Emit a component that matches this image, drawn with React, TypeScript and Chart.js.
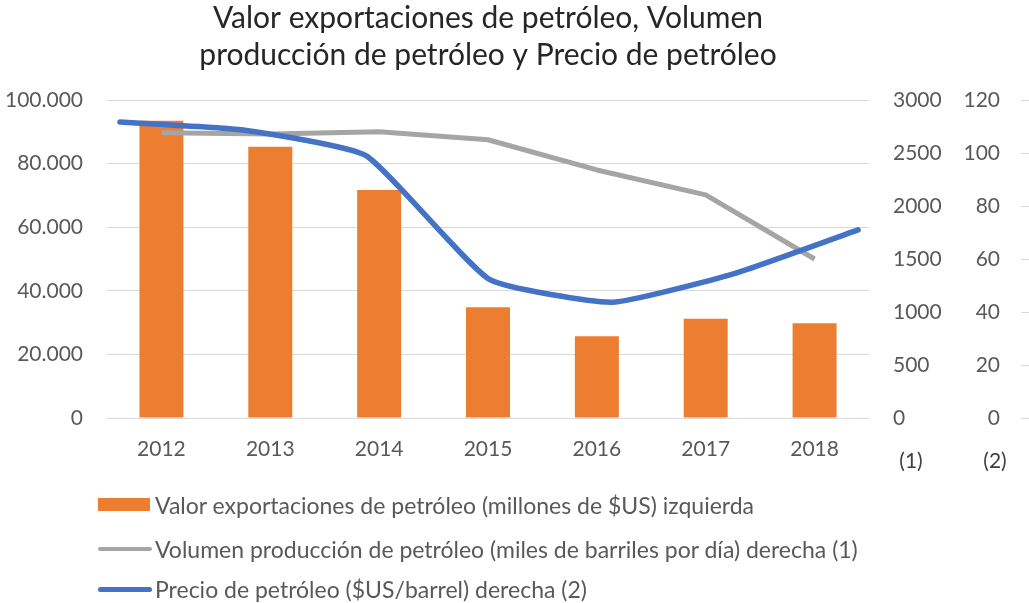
import React, { useEffect, useRef } from "react";
import { Chart, registerables } from "chart.js";

Chart.register(...registerables);

const years = ["2012", "2013", "2014", "2015", "2016", "2017", "2018"];
const exportValue = [93500, 85300, 71700, 34800, 25700, 31200, 29800];
const productionVolume = [2690, 2680, 2700, 2625, 2340, 2105, 1500];
const oilPrice = [111.7, 108.7, 99.0, 52.4, 43.7, 54.6, 71.0];
const titleLines = [
  "Valor exportaciones de petróleo, Volumen",
  "producción de petróleo y Precio de petróleo",
];
const legendLabels = [
  "Valor exportaciones de petróleo (millones de $US) izquierda",
  "Volumen producción de petróleo (miles de barriles por día) derecha (1)",
  "Precio de petróleo ($US/barrel) derecha (2)",
];

const FONT = "Lato, 'Open Sans', sans-serif";
const TICK_COLOR = "#595959";
const ORANGE = "#ED7D31";
const GRAY = "#A5A5A5";
const BLUE = "#4472C4";

function fmtThousands(v: number): string {
  return String(Math.round(v)).replace(/\B(?=(\d{3})+(?!\d))/g, ".");
}

const sideTicks = {
  id: "sideTicks",
  afterDraw(chart: any) {
    const s = chart.scales.y2;
    if (!s) return;
    const ctx = chart.ctx;
    ctx.save();
    ctx.strokeStyle = "#d9d9d9";
    ctx.lineWidth = 1;
    s.ticks.forEach((t: any) => {
      const y = Math.round(s.getPixelForValue(t.value)) + 0.5;
      ctx.beginPath();
      ctx.moveTo(1021, y);
      ctx.lineTo(1029, y);
      ctx.stroke();
    });
    ctx.restore();
  },
};

export default function App() {
  const ref = useRef<HTMLCanvasElement | null>(null);

  useEffect(() => {
    document.body.style.margin = "0";
    let chart: Chart | null = null;
    let cancelled = false;
    const make = () => {
      if (cancelled || !ref.current) return;
      Chart.defaults.font.family = FONT;
      chart = new Chart(ref.current, {
        type: "bar",
        data: {
          labels: years,
          datasets: [
            {
              type: "line",
              label: legendLabels[2],
              data: oilPrice.map((v, i) => ({ x: i, y: v })),
              xAxisID: "x2",
              yAxisID: "y2",
              borderColor: BLUE,
              borderWidth: 5.5,
              pointRadius: 0,
              tension: 0.15,
              borderCapStyle: "round",
              borderJoinStyle: "round",
              order: 0,
            } as any,
            {
              type: "line",
              label: legendLabels[1],
              data: productionVolume,
              xAxisID: "x",
              yAxisID: "y1",
              borderColor: GRAY,
              borderWidth: 5,
              pointRadius: 0,
              tension: 0,
              borderJoinStyle: "round",
              order: 1,
            } as any,
            {
              type: "bar",
              label: legendLabels[0],
              data: exportValue,
              xAxisID: "x",
              yAxisID: "y",
              backgroundColor: ORANGE,
              barPercentage: 0.404,
              categoryPercentage: 1,
              grouped: false,
              order: 2,
            } as any,
          ],
        },
        options: {
          animation: false,
          responsive: false,
          layout: { padding: { top: 0, left: 0, right: 29, bottom: 125 } },
          plugins: {
            legend: { display: false },
            tooltip: { enabled: false },
            title: {
              display: true,
              text: titleLines,
              fullSize: false,
              color: "#262626",
              font: { family: FONT, size: 30, weight: "normal", lineHeight: "37px" } as any,
              padding: { top: 0, bottom: 26 },
            },
          },
          scales: {
            x: {
              type: "category",
              offset: true,
              grid: { display: false, offset: true, drawTicks: false },
              border: { display: false },
              ticks: { color: TICK_COLOR, font: { size: 21 }, padding: 19, maxRotation: 0 },
              afterFit: (s: any) => { s.height = 60; },
            },
            x2: {
              type: "linear",
              display: false,
              offset: false,
              grid: { offset: false },
              min: -0.105,
              max: 6.089,
            },
            y: {
              position: "left",
              min: 0,
              max: 100000,
              ticks: {
                stepSize: 20000,
                color: TICK_COLOR,
                font: { size: 21 },
                padding: 24,
                callback: (v: any) => fmtThousands(Number(v)),
              },
              grid: { color: "#d9d9d9", drawTicks: false, lineWidth: 1 },
              border: { display: false },
              afterFit: (s: any) => { s.width = 107; },
            },
            y1: {
              position: "right",
              min: 0,
              max: 3000,
              ticks: {
                stepSize: 500,
                color: TICK_COLOR,
                font: { size: 21 },
                padding: 24,
                callback: (v: any) => String(Math.round(Number(v))),
              },
              grid: { display: false, drawTicks: false },
              border: { display: false },
              afterFit: (s: any) => { s.width = 75; },
            },
            y2: {
              position: "right",
              min: 0,
              max: 120,
              ticks: {
                stepSize: 20,
                color: TICK_COLOR,
                font: { size: 21 },
                padding: 19,
                crossAlign: "far",
                callback: (v: any) => String(Math.round(Number(v))),
              },
              grid: { display: false, drawTicks: false },
              border: { display: false },
              afterFit: (s: any) => { s.width = 56; },
            },
          },
        },
        plugins: [sideTicks],
      });
    };
    const fonts: any = (document as any).fonts;
    if (fonts && fonts.load) {
      Promise.all([fonts.load("21px Lato"), fonts.load("30px Lato")]).then(make, make);
    } else {
      make();
    }
    return () => {
      cancelled = true;
      if (chart) chart.destroy();
    };
  }, []);

  const textStyle: React.CSSProperties = {
    position: "absolute",
    left: 155,
    fontFamily: FONT,
    fontSize: 23,
    color: TICK_COLOR,
    whiteSpace: "nowrap",
    lineHeight: "28px",
    transform: "translateY(-50%)",
  };

  return (
    <div style={{ position: "relative", width: 1029, height: 603, overflow: "hidden", background: "#fff" }}>
      <canvas ref={ref} width={1029} height={603} style={{ display: "block" }} />
      <div style={{ position: "absolute", left: 98, top: 498, width: 52, height: 13, background: ORANGE }} />
      <div style={{ ...textStyle, top: 505 }}>{legendLabels[0]}</div>
      <div style={{ position: "absolute", left: 98, top: 547, width: 54, height: 4, background: GRAY, borderRadius: 2 }} />
      <div style={{ ...textStyle, top: 549 }}>{legendLabels[1]}</div>
      <div style={{ position: "absolute", left: 98, top: 587, width: 54, height: 5, background: BLUE, borderRadius: 2.5 }} />
      <div style={{ ...textStyle, top: 589 }}>{legendLabels[2]}</div>
      <div style={{ ...textStyle, fontSize: 21, left: 911, top: 460, color: "#404040", transform: "translate(-50%, -50%)" }}>(1)</div>
      <div style={{ ...textStyle, fontSize: 21, left: 995, top: 460, color: "#404040", transform: "translate(-50%, -50%)" }}>(2)</div>
    </div>
  );
}
